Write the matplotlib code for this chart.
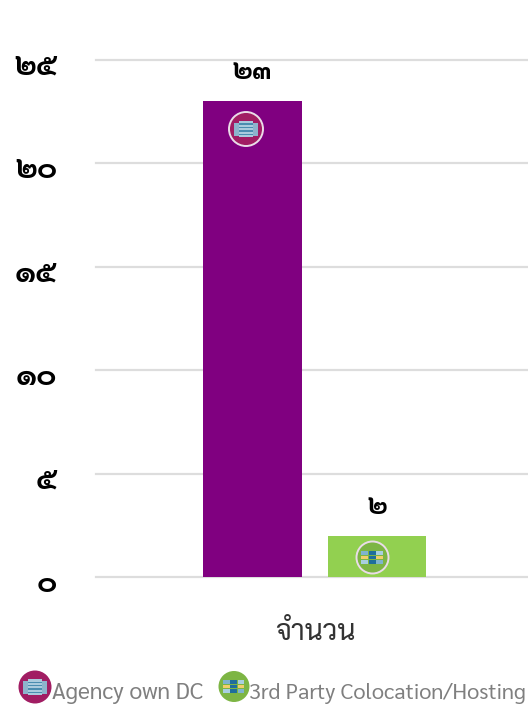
"""Data-centre count by hosting type: two bars with round icons and Thai digits."""
import matplotlib
matplotlib.use("Agg")
import matplotlib.pyplot as plt
from matplotlib.patches import Circle, Rectangle
from matplotlib.transforms import ScaledTranslation
from matplotlib import font_manager as fm

# ---- values ----
CATEGORY = "จำนวน"
SERIES = ["Agency own DC", "3rd Party Colocation/Hosting"]
VALUES = [23, 2]
BAR_COLORS = ["#800080", "#92D050"]
ICON_COLORS = ["#A11D63", "#7DB544"]
TICKS = [0, 5, 10, 15, 20, 25]
TICK_LABELS = ["๐", "๕", "๑๐", "๑๕", "๒๐", "๒๕"]
VALUE_LABELS = ["๒๓", "๒"]

W, H = 528, 706
names = {f.name for f in fm.fontManager.ttflist}
FONT = "Sarabun" if "Sarabun" in names else "Athiti"
plt.rcParams["font.family"] = [FONT, "DejaVu Sans"]

fig = plt.figure(figsize=(W / 100, H / 100), dpi=100)
# axes spans the gridlines exactly: x 96..528, y 60..577 from the top
ax = fig.add_axes([96 / W, 1 - 577 / H, 432 / W, 517 / H])
ax.set_xlim(96, 528)
ax.set_ylim(0, 25)


def box(x, y, w, h, c, z=6):
    # x, y = top left corner in pixels from the top of the image
    fig.add_artist(Rectangle((x / W, 1 - (y + h) / H), w / W, h / H,
                             transform=fig.transFigure, facecolor=c, edgecolor="none", zorder=z))


def icon(cx, cy, kind, r, ring=False):
    """Round badge in pixel coordinates (origin top left)."""
    fig.add_artist(Circle((cx / 100, (H - cy) / 100), r / 100, transform=fig.dpi_scale_trans,
                          facecolor=ICON_COLORS[kind],
                          edgecolor="#EADCE8" if ring else "none",
                          linewidth=1.4 if ring else 0, zorder=5))
    u = r / 17
    if kind == 0:
        # stacked server building
        for dx, dy, w, h, c in [(-12, -6, 7, 13, "#8DB4CC"), (5, -6, 7, 13, "#8DB4CC"),
                                (-7, -8, 14, 16, "#A9CBDD")]:
            box(cx + dx * u, cy + dy * u, w * u, h * u, c)
        for k in range(4):
            box(cx - 7 * u, cy + (-5.5 + 3.5 * k) * u, 14 * u, 1.2 * u, "#4A8DB0", 7)
    else:
        # rack rows, blue with yellow slots
        rows = [("#7FB4CF", "#1F6E9C", "#A9CFE0"), ("#F2CE6B", "#1F6E9C", "#F2CE6B"),
                ("#A9CFE0", "#1F6E9C", "#7FB4CF")]
        for j, row in enumerate(rows):
            for i, c in enumerate(row):
                box(cx + (-12 + 8 * i) * u, cy + (-7 + 5 * j) * u, 7.5 * u, 4 * u, c)


ax.grid(axis="y", color="#DDDDDD", linewidth=1.6, zorder=0, clip_on=False)
ax.set_axisbelow(True)
ax.set_yticks(TICKS)
ax.set_yticklabels(TICK_LABELS, fontsize=22, fontweight="bold", color="black")
ax.tick_params(axis="y", length=0, pad=28)
shift = ScaledTranslation(0, -3 / 100, fig.dpi_scale_trans)
for lab in ax.get_yticklabels():
    lab.set_transform(lab.get_transform() + shift)
ax.set_xticks([])
for s in ax.spines.values():
    s.set_visible(False)

# bars, positions in pixels since the x axis has one category only
centers = [252.5, 377]
ax.bar(centers, VALUES, width=98.5, color=BAR_COLORS, zorder=2)
for c, v, t in zip(centers, VALUES, VALUE_LABELS):
    ax.annotate(t, (c, v), xytext=(0, 16), textcoords="offset pixels", ha="center", va="bottom",
                fontsize=20, fontweight="bold", color="black")

icon(246, 129, 0, 17, ring=True)
icon(372.5, 557.5, 1, 16, ring=True)

fig.text(315 / W, 1 - 633 / H, CATEGORY, fontsize=20.5, color="#333333", ha="center", va="center")

# legend row drawn by hand so icons overlap the text as in the source
icon(35, 687, 0, 16.5)
icon(234, 686.5, 1, 15.5)
fig.text(52 / W, 1 - 693 / H, SERIES[0], fontsize=16.5, color="#7F7F7F", va="center", zorder=8)
fig.text(249 / W, 1 - 693 / H, SERIES[1], fontsize=15.7, color="#7F7F7F", va="center", zorder=8)

fig.savefig("out.png", dpi=100)
print("saved out.png", FONT)
